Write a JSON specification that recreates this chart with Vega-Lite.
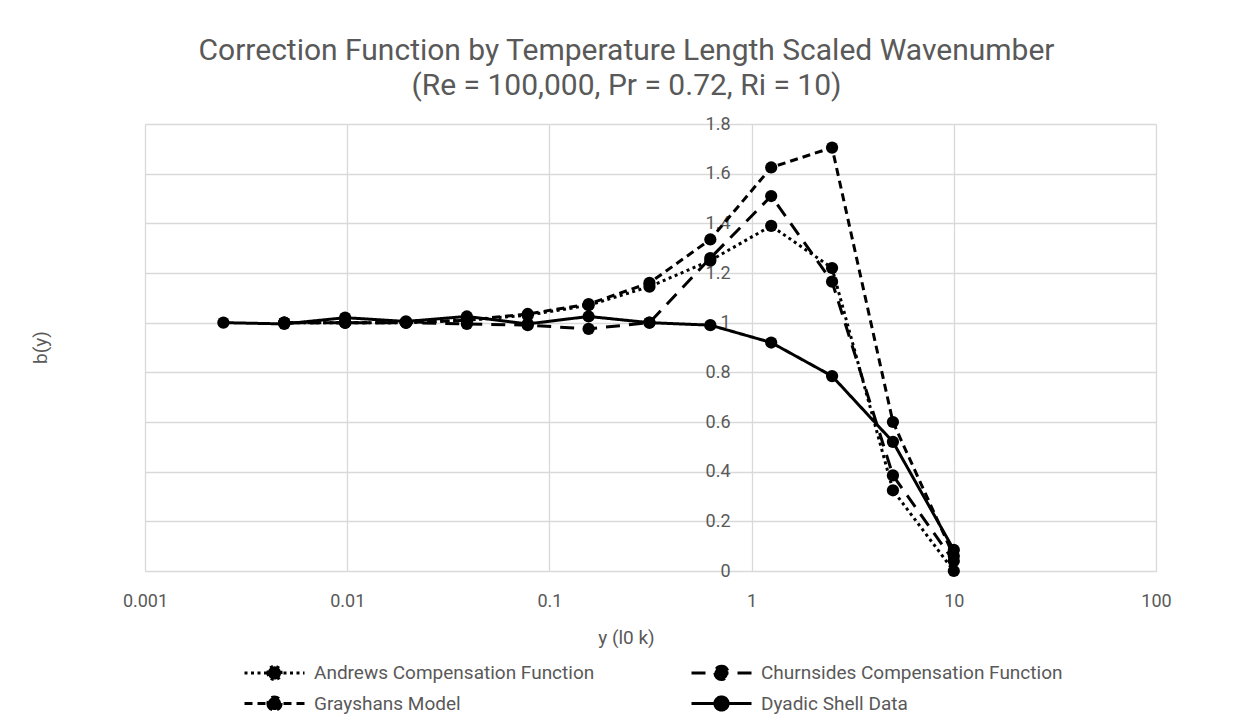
{
  "$schema": "https://vega.github.io/schema/vega-lite/v6.json",
  "width": 1011,
  "height": 447,
  "autosize": {"type": "none"},
  "padding": {"left": 145, "top": 124, "right": 97, "bottom": 152},
  "background": "white",
  "config": {
    "font": "Roboto, sans-serif",
    "view": {"stroke": null},
    "axis": {"gridColor": "#d9d9d9", "gridWidth": 1.3, "domainColor": "#d9d9d9", "labelColor": "#595959", "titleColor": "#595959", "labelFontSize": 18, "titleFontSize": 19, "titleFontWeight": "normal", "ticks": false}
  },
  "title": {
    "text": ["Correction Function by Temperature Length Scaled Wavenumber", "(Re = 100,000, Pr = 0.72, Ri = 10)"],
    "fontSize": 30,
    "fontWeight": "normal",
    "color": "#595959",
    "lineHeight": 35,
    "anchor": "middle",
    "dx": -24,
    "offset": 14
  },
  "data": {
    "values": [
      {"series": "Dyadic Shell Data", "x": 0.00244140625, "b": 1.0},
      {"series": "Dyadic Shell Data", "x": 0.0048828125, "b": 0.995},
      {"series": "Dyadic Shell Data", "x": 0.009765625, "b": 1.02},
      {"series": "Dyadic Shell Data", "x": 0.01953125, "b": 1.005},
      {"series": "Dyadic Shell Data", "x": 0.0390625, "b": 1.025},
      {"series": "Dyadic Shell Data", "x": 0.078125, "b": 0.995},
      {"series": "Dyadic Shell Data", "x": 0.15625, "b": 1.025},
      {"series": "Dyadic Shell Data", "x": 0.3125, "b": 1.0},
      {"series": "Dyadic Shell Data", "x": 0.625, "b": 0.99},
      {"series": "Dyadic Shell Data", "x": 1.25, "b": 0.92},
      {"series": "Dyadic Shell Data", "x": 2.5, "b": 0.785},
      {"series": "Dyadic Shell Data", "x": 5, "b": 0.52},
      {"series": "Dyadic Shell Data", "x": 10, "b": 0.085},
      {"series": "Grayshans Model", "x": 0.0048828125, "b": 1.0},
      {"series": "Grayshans Model", "x": 0.009765625, "b": 1.0},
      {"series": "Grayshans Model", "x": 0.01953125, "b": 1.0},
      {"series": "Grayshans Model", "x": 0.0390625, "b": 1.01},
      {"series": "Grayshans Model", "x": 0.078125, "b": 1.035},
      {"series": "Grayshans Model", "x": 0.15625, "b": 1.075},
      {"series": "Grayshans Model", "x": 0.3125, "b": 1.16},
      {"series": "Grayshans Model", "x": 0.625, "b": 1.335},
      {"series": "Grayshans Model", "x": 1.25, "b": 1.625},
      {"series": "Grayshans Model", "x": 2.5, "b": 1.705},
      {"series": "Grayshans Model", "x": 5, "b": 0.6},
      {"series": "Grayshans Model", "x": 10, "b": 0.06},
      {"series": "Andrews Compensation Function", "x": 0.0048828125, "b": 1.0},
      {"series": "Andrews Compensation Function", "x": 0.009765625, "b": 1.0},
      {"series": "Andrews Compensation Function", "x": 0.01953125, "b": 1.0},
      {"series": "Andrews Compensation Function", "x": 0.0390625, "b": 1.01},
      {"series": "Andrews Compensation Function", "x": 0.078125, "b": 1.03},
      {"series": "Andrews Compensation Function", "x": 0.15625, "b": 1.07},
      {"series": "Andrews Compensation Function", "x": 0.3125, "b": 1.145},
      {"series": "Andrews Compensation Function", "x": 0.625, "b": 1.25},
      {"series": "Andrews Compensation Function", "x": 1.25, "b": 1.39},
      {"series": "Andrews Compensation Function", "x": 2.5, "b": 1.22},
      {"series": "Andrews Compensation Function", "x": 5, "b": 0.325},
      {"series": "Andrews Compensation Function", "x": 10, "b": 0.0},
      {"series": "Churnsides Compensation Function", "x": 0.0048828125, "b": 1.0},
      {"series": "Churnsides Compensation Function", "x": 0.009765625, "b": 1.0},
      {"series": "Churnsides Compensation Function", "x": 0.01953125, "b": 1.0},
      {"series": "Churnsides Compensation Function", "x": 0.0390625, "b": 0.995},
      {"series": "Churnsides Compensation Function", "x": 0.078125, "b": 0.99},
      {"series": "Churnsides Compensation Function", "x": 0.15625, "b": 0.975},
      {"series": "Churnsides Compensation Function", "x": 0.3125, "b": 1.0},
      {"series": "Churnsides Compensation Function", "x": 0.625, "b": 1.26},
      {"series": "Churnsides Compensation Function", "x": 1.25, "b": 1.51},
      {"series": "Churnsides Compensation Function", "x": 2.5, "b": 1.165},
      {"series": "Churnsides Compensation Function", "x": 5, "b": 0.385},
      {"series": "Churnsides Compensation Function", "x": 10, "b": 0.04}
    ]
  },
  "encoding": {
    "x": {
      "field": "x", "type": "quantitative",
      "scale": {"type": "log", "domain": [0.001, 100], "nice": false},
      "axis": {"values": [0.001, 0.01, 0.1, 1, 10, 100], "format": "~g", "labelFlush": false, "title": "y (l0 k)", "labelPadding": 21, "titleY": 66, "titleBaseline": "middle", "titleX": 481, "titleAnchor": null}
    },
    "y": {
      "field": "b", "type": "quantitative",
      "scale": {"domain": [0, 1.8], "nice": false, "zero": true},
      "axis": {"values": [0, 0.2, 0.4, 0.6, 0.8, 1, 1.2, 1.4, 1.6, 1.8], "format": "~g", "offset": -607, "labelPadding": 22, "title": "b(y)", "titleX": -712, "titleY": 223, "titleAngle": 270, "titleAlign": "center", "titleBaseline": "middle", "domain": false}
    }
  },
  "layer": [
    {
      "mark": {"type": "line", "strokeWidth": 3, "color": "black", "strokeCap": "butt"},
      "encoding": {
        "detail": {"field": "series"},
        "strokeDash": {
          "field": "series", "type": "nominal",
          "scale": {"domain": ["Andrews Compensation Function", "Grayshans Model", "Churnsides Compensation Function", "Dyadic Shell Data"], "range": [[3, 3.5], [8, 5], [14, 9], [1, 0]]},
          "legend": {
            "orient": "none", "legendX": 118, "legendY": 537, "columns": 2, "columnPadding": 90, "rowPadding": 4,
            "title": null, "symbolType": "M-3,0L3,0M-0.66,0A0.66,0.66 0 1,0 0.66,0A0.66,0.66 0 1,0 -0.66,0Z", "symbolSize": 400, "symbolStrokeWidth": 3, "symbolStrokeColor": "black", "symbolFillColor": "black",
            "labelFontSize": 19, "labelColor": "#595959", "labelLimit": 500, "labelOffset": 28
          }
        }
      }
    },
    {
      "mark": {"type": "point", "filled": true, "size": 150, "color": "black", "opacity": 1},
      "encoding": {"detail": {"field": "series"}}
    }
  ]
}
